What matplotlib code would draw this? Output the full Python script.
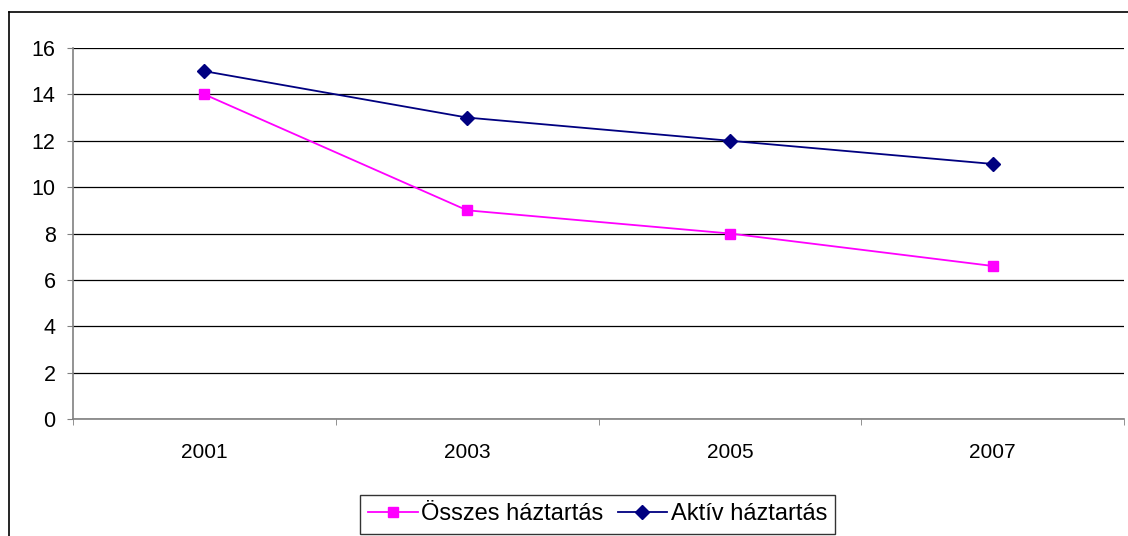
import matplotlib.pyplot as plt
from matplotlib.lines import Line2D

plt.rcParams['font.family'] = ['Liberation Sans', 'DejaVu Sans']

evek = ["2001", "2003", "2005", "2007"]
osszes = [14, 9, 8, 6.6]
aktiv = [15, 13, 12, 11]

fig = plt.figure(figsize=(11.28, 5.36), dpi=100)
ax = fig.add_axes([73 / 1128, 1 - 419 / 536, 1051 / 1128, 371 / 536])

x = range(len(evek))
ax.plot(x, osszes, color="#FF00FF", marker="s", markersize=7, lw=1.3,
        label="Összes háztartás")
ax.plot(x, aktiv, color="#000080", marker="D", markersize=7.5, lw=1.3,
        label="Aktív háztartás")

ax.set_xlim(-0.5, len(evek) - 0.5)
ax.set_ylim(0, 16)
ax.set_yticks(range(0, 17, 2))
ax.set_xticks(x)
ax.set_xticklabels(evek)
ax.set_xticks([i - 0.5 for i in range(len(evek) + 1)], minor=True)
ax.tick_params(axis="x", which="major", length=0, pad=17, labelsize=15)
ax.tick_params(axis="x", which="minor", length=4.5, direction="out", color="#808080")
ax.tick_params(axis="y", length=4.5, direction="out", color="#808080", labelsize=15.5, pad=8)
ax.grid(axis="y", color="black", lw=0.9)
ax.set_axisbelow(True)
for s in ["top", "right"]:
    ax.spines[s].set_visible(False)
for s in ["left", "bottom"]:
    ax.spines[s].set_color("#808080")
    ax.spines[s].set_linewidth(1.2)

leg = fig.legend(loc="center", bbox_to_anchor=(597.5 / 1128, 1 - 514.5 / 536), ncol=2,
                 frameon=True, fancybox=False, edgecolor="black", fontsize=17,
                 handlelength=2.1, handletextpad=0.15, columnspacing=0.6,
                 borderpad=0.35, borderaxespad=0)
leg.get_frame().set_linewidth(1.0)

# keret a diagram körül
fig.add_artist(Line2D([8.5 / 1128, 8.5 / 1128], [0, 1 - 12 / 536], color="black", lw=1.2))
fig.add_artist(Line2D([8.5 / 1128, 1], [1 - 12 / 536, 1 - 12 / 536], color="black", lw=1.2))

fig.savefig("out.png", dpi=100)
